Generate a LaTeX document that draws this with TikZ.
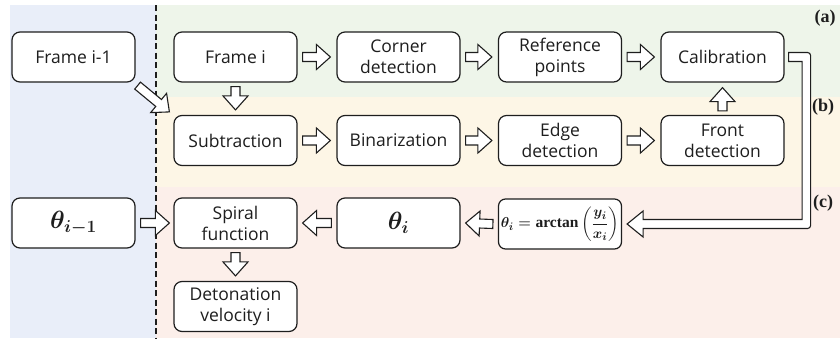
\documentclass[tikz,border=0pt]{standalone}
\usepackage{amsmath}
\usepackage{fontspec}
\setmainfont{Open Sans}
\newfontfamily\labfont{Liberation Serif}
\usetikzlibrary{calc}
\definecolor{bgblue}{RGB}{233,238,249}
\definecolor{bggreen}{RGB}{238,245,234}
\definecolor{bgorange}{RGB}{253,246,230}
\definecolor{bgpink}{RGB}{252,239,234}
\definecolor{ink}{RGB}{30,30,30}
\newcommand\bigmathfont{\fontsize{23}{23}\selectfont\boldmath}
\newcommand\formfont{\fontsize{15.5}{17}\selectfont\boldmath}
\newcommand\arctanop{\mathop{\text{\labfont\bfseries arctan}}\nolimits}
\tikzset{
  box/.style={draw=ink, line width=1.2pt, rounded corners=8pt, fill=white,
    minimum width=123pt, minimum height=50pt, inner sep=0pt, align=center,
    font=\fontsize{17.5}{21}\selectfont, text=ink},
  fatarr/.style={draw=ink, line width=1.1pt, fill=white, line join=miter},
  lab/.style={font=\labfont\fontsize{18}{20}\selectfont\bfseries, text=ink, inner sep=0pt}
}
\newcommand\fatarrow[2]{%
  \draw[fatarr] let \p1=(#1), \p2=(#2), \n1={atan2(\y2-\y1,\x2-\x1)} in
    ($(\p1)+(\n1+90:4.5pt)$) --
    ($(\p2)+(\n1+180:14pt)+(\n1+90:4.5pt)$) --
    ($(\p2)+(\n1+180:14pt)+(\n1+90:12.5pt)$) --
    (\p2) --
    ($(\p2)+(\n1+180:14pt)+(\n1-90:12.5pt)$) --
    ($(\p2)+(\n1+180:14pt)+(\n1-90:4.5pt)$) --
    ($(\p1)+(\n1-90:4.5pt)$) -- cycle;}
\begin{document}
\begin{tikzpicture}[x=1pt,y=-1pt]
\useasboundingbox (0,0) rectangle (840,341);
\fill[white] (0,0) rectangle (840,341);
\fill[bgblue] (10,5) rectangle (156,338);
\fill[bggreen] (156,5) rectangle (840,97);
\fill[bgorange] (156,97) rectangle (840,187);
\fill[bgpink] (156,187) rectangle (840,338);
\draw[ink, line width=1.1pt, dash pattern=on 6pt off 3.5pt] (156,5) -- (156,338);

\node[box] (fprev) at (73.5,57) {Frame i-1};
\node[box] (fi) at (235.5,57) {Frame i};
\node[box] (corner) at (398.5,57) {Corner\\detection};
\node[box] (ref) at (560,57) {Reference\\points};
\node[box] (cal) at (722.5,57) {Calibration};

\node[box] (sub) at (235.5,140.5) {Subtraction};
\node[box] (bin) at (398.5,140.5) {Binarization};
\node[box] (edge) at (560,140.5) {Edge\\detection};
\node[box] (front) at (722.5,140.5) {Front\\detection};

\node[box, font=\bigmathfont] (thprev) at (73.5,223) {$\theta_{i-1}$};
\node[box] (spiral) at (235.5,223) {Spiral\\function};
\node[box, font=\bigmathfont] (thi) at (398.5,223) {$\theta_{i}$};
\node[box, rounded corners=7pt, font=\formfont, inner xsep=2pt] (form) at (560,224)
  {$\theta_i=\arctanop\left(\dfrac{y_i}{x_i}\right)$};
\node[box] (det) at (235.5,306.5) {Detonation\\velocity i};

\node[lab] at (825,18) {(a)};
\node[lab] at (823,107) {(b)};
\node[lab] at (823,203) {(c)};

% horizontal arrows
\fatarrow{$(fi.east)+(5,0)$}{$(corner.west)+(-6,0)$}
\fatarrow{$(corner.east)+(5,0)$}{$(ref.west)+(-6,0)$}
\fatarrow{$(ref.east)+(5,0)$}{$(cal.west)+(-6,0)$}
\fatarrow{$(sub.east)+(5,0)$}{$(bin.west)+(-6,0)$}
\fatarrow{$(bin.east)+(5,0)$}{$(edge.west)+(-6,0)$}
\fatarrow{$(edge.east)+(5,0)$}{$(front.west)+(-6,0)$}
\fatarrow{$(thprev.east)+(5,0)$}{$(spiral.west)+(-4,0)$}
\fatarrow{$(thi.west)+(-5,0)$}{$(spiral.east)+(5,0)$}
\fatarrow{$(form.west)+(-5,0)$}{$(thi.east)+(5,0)$}
% vertical arrows
\fatarrow{$(fi.south)+(0,4)$}{$(sub.north)+(0,-5)$}
\fatarrow{$(front.north)+(0,-4)$}{$(cal.south)+(0,5)$}
\fatarrow{$(spiral.south)+(0,4)$}{$(det.north)+(0,-5)$}
% diagonal arrow
\fatarrow{$(fprev.south east)+(2,3)$}{$(sub.north west)+(-4,-3)$}
% L-shaped arrow
\draw[fatarr] let \p1=(cal.east), \p2=(form.east) in
  (\x1+4pt,\y1+4.5pt) [rounded corners=3pt] -- (\x1+26pt,\y1+4.5pt) -- (\x1+26pt,\y2-4.5pt)
  [sharp corners] -- (\x2+21pt,\y2-4.5pt) -- (\x2+21pt,\y2-13pt) -- (\x2+5pt,\y2)
  -- (\x2+21pt,\y2+13pt) -- (\x2+21pt,\y2+4.5pt) -- (\x1+17.5pt,\y2+4.5pt)
  -- (\x1+17.5pt,\y1-4.5pt) -- (\x1+4pt,\y1-4.5pt) -- cycle;
\end{tikzpicture}
\end{document}
